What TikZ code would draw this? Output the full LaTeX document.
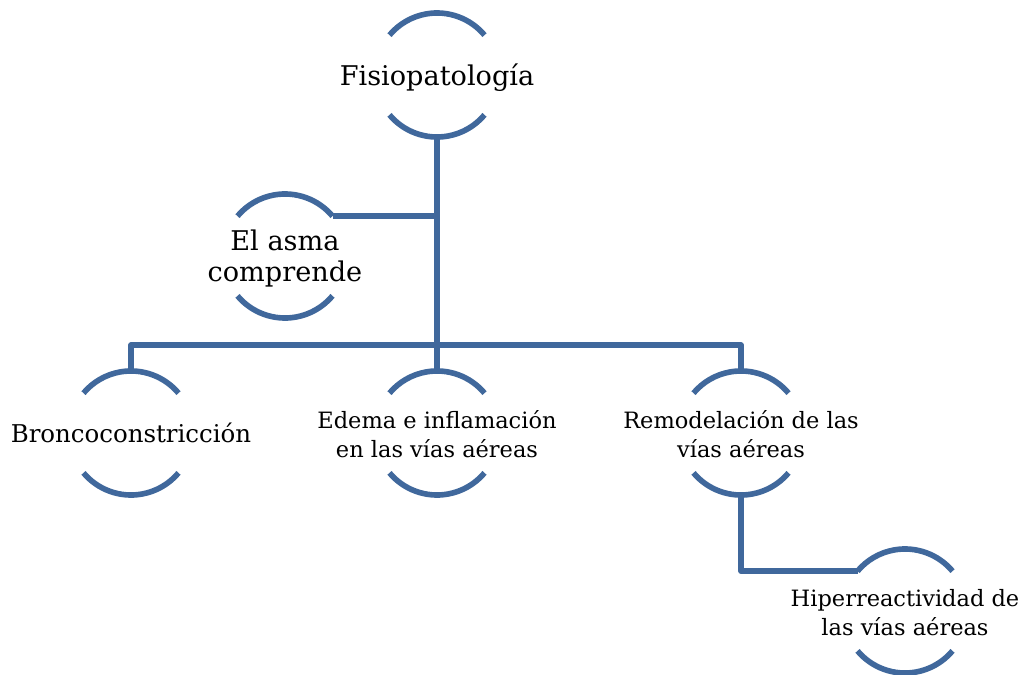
\documentclass[tikz,border=0pt]{standalone}
\usepackage{fontspec}
\setmainfont{DejaVu Serif}
\definecolor{ringblue}{RGB}{64,104,156}
\tikzset{
  hub/.style={circle, minimum size=3.1cm, inner sep=0pt, outer sep=0pt},
  link/.style={ringblue, line width=4pt, line join=round},
  bigtext/.style={font=\fontsize{19.3}{22}\selectfont},
  midtext/.style={font=\fontsize{17.4}{21}\selectfont},
  smalltext/.style={font=\fontsize{16}{21}\selectfont},
}
% top and bottom arcs of a hub
\newcommand{\cups}[1]{%
  \draw[link] (#1.40) arc[start angle=40, end angle=140, radius=1.55cm];
  \draw[link] (#1.220) arc[start angle=220, end angle=320, radius=1.55cm];}
\newcommand{\lbl}[1]{\makebox[0pt]{\raisebox{-0.1cm}[\height][\depth]{\begin{tabular}{@{}c@{}}#1\end{tabular}}}}

\begin{document}
\begin{tikzpicture}[x=0.025cm, y=0.025cm]
  \useasboundingbox (0,0) rectangle (1023,-675);

  % TOP
  \node[hub, bigtext] (fisio) at (437,-75) {\lbl{Fisiopatología}};
  \node[hub, bigtext] (asma) at (285,-256) {\lbl{El asma\\comprende}};
  \cups{fisio}
  \cups{asma}

  % ROW
  \node[hub, midtext] (bronco) at (131,-433) {\lbl{Broncoconstricción}};
  \node[hub, smalltext] (edema) at (437,-433) {\lbl{Edema e inflamación\\en las vías aéreas}};
  \node[hub, smalltext] (remod) at (741,-433) {\lbl{Remodelación de las\\vías aéreas}};
  \node[hub, smalltext] (hiper) at (905,-611) {\lbl{Hiperreactividad de\\las vías aéreas}};
  \cups{bronco}
  \cups{edema}
  \cups{remod}
  \cups{hiper}

  % CONNECTORS
  \coordinate (bar) at (437,-345);
  \draw[link] (fisio.south) -- (bar);
  \draw[link] (asma.40) -- (asma.40 -| fisio.south);
  \draw[link] (bronco.north) -- (bronco.north |- bar) -- (remod.north |- bar) -- (remod.north);
  \draw[link] (bar) -- (edema.north);
  \draw[link] (remod.south) -- (remod.south |- hiper.140) -- (hiper.140);
\end{tikzpicture}
\end{document}
